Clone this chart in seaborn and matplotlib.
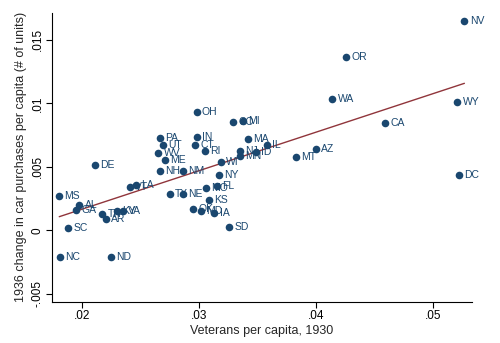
import matplotlib
matplotlib.use("Agg")
import matplotlib.pyplot as plt
import seaborn as sns
import pandas as pd

states = ["NV", "OR", "WA", "WY", "CA", "DC", "AZ", "MT", "IL", "ID",
          "MA", "CO", "MI", "NJ", "MN", "OH", "PA", "IN", "UT", "CT",
          "RI", "WV", "ME", "NH", "NM", "WI", "NY", "MO", "FL", "KS",
          "IA", "SD", "TX", "NE", "OK", "MD", "MS", "AL", "GA", "SC",
          "NC", "ND", "DE", "TN", "AR", "KY", "VA", "VT", "LA"]
veterans = [0.05268, 0.04254, 0.04139, 0.05208, 0.04592, 0.05222, 0.03997, 0.03829, 0.03579, 0.03487,
            0.03416, 0.03293, 0.03379, 0.03350, 0.03350, 0.02980, 0.02667, 0.02980, 0.02690, 0.02966,
            0.03051, 0.02652, 0.02709, 0.02667, 0.02866, 0.03185, 0.03171, 0.03060, 0.03151, 0.03085,
            0.03132, 0.03259, 0.02752, 0.02861, 0.02949, 0.03013, 0.01806, 0.01977, 0.01949, 0.01883,
            0.01815, 0.02245, 0.02109, 0.02174, 0.02205, 0.02299, 0.02350, 0.02408, 0.02462]
car_change = [0.01646, 0.01366, 0.01037, 0.01009, 0.00846, 0.00439, 0.00640, 0.00578, 0.00674, 0.00614,
              0.00721, 0.00854, 0.00862, 0.00627, 0.00584, 0.00935, 0.00726, 0.00737, 0.00672, 0.00672,
              0.00627, 0.00609, 0.00556, 0.00470, 0.00470, 0.00541, 0.00437, 0.00332, 0.00345, 0.00241,
              0.00136, 0.00026, 0.00282, 0.00288, 0.00165, 0.00153, 0.00274, 0.00201, 0.00162, 0.00021,
              -0.00209, -0.00214, 0.00517, 0.00131, 0.00090, 0.00149, 0.00151, 0.00339, 0.00353]

x_ticks = [0.02, 0.03, 0.04, 0.05]
x_tick_labels = [".02", ".03", ".04", ".05"]
y_ticks = [-0.005, 0, 0.005, 0.01, 0.015]
y_tick_labels = ["-.005", "0", ".005", ".01", ".015"]

df = pd.DataFrame({"state": states, "vet": veterans, "car": car_change})

sns.set_theme(style="ticks")
plt.rcParams["font.family"] = ["Liberation Sans", "DejaVu Sans"]

navy = "#1a476f"
maroon = "#90353b"

fig = plt.figure(figsize=(5.0, 3.43), dpi=100)
ax = fig.add_axes([0.104, 0.12, 0.84, 0.842])

sns.scatterplot(data=df, x="vet", y="car", ax=ax, color=navy, s=30,
                edgecolor=navy, linewidth=0, zorder=3)
sns.regplot(data=df, x="vet", y="car", ax=ax, scatter=False, ci=None,
            line_kws={"color": maroon, "linewidth": 1.0, "zorder": 2})

for st, xv, yv in zip(df["state"], df["vet"], df["car"]):
    ax.annotate(st, (xv, yv), xytext=(3.8, 0), textcoords="offset points",
                ha="left", va="center", fontsize=7.5, color=navy, zorder=4)

ax.set_xlim(0.01744, 0.05333)
ax.set_ylim(-0.00564, 0.01712)
ax.set_xticks(x_ticks)
ax.set_xticklabels(x_tick_labels)
ax.set_yticks(y_ticks)
ax.set_yticklabels(y_tick_labels, rotation=90, va="center")
ax.tick_params(axis="both", direction="out", length=4, width=0.8,
               labelsize=8.5, colors="black", pad=2)
ax.set_xlabel("Veterans per capita, 1930", fontsize=9, labelpad=2)
ax.set_ylabel("1936 change in car purchases per capita (# of units)", fontsize=9, labelpad=3)
for side in ["top", "right"]:
    ax.spines[side].set_visible(False)
for side in ["left", "bottom"]:
    ax.spines[side].set_linewidth(0.8)
    ax.spines[side].set_color("black")
ax.grid(False)

fig.savefig("out.png", dpi=100, facecolor="white")
